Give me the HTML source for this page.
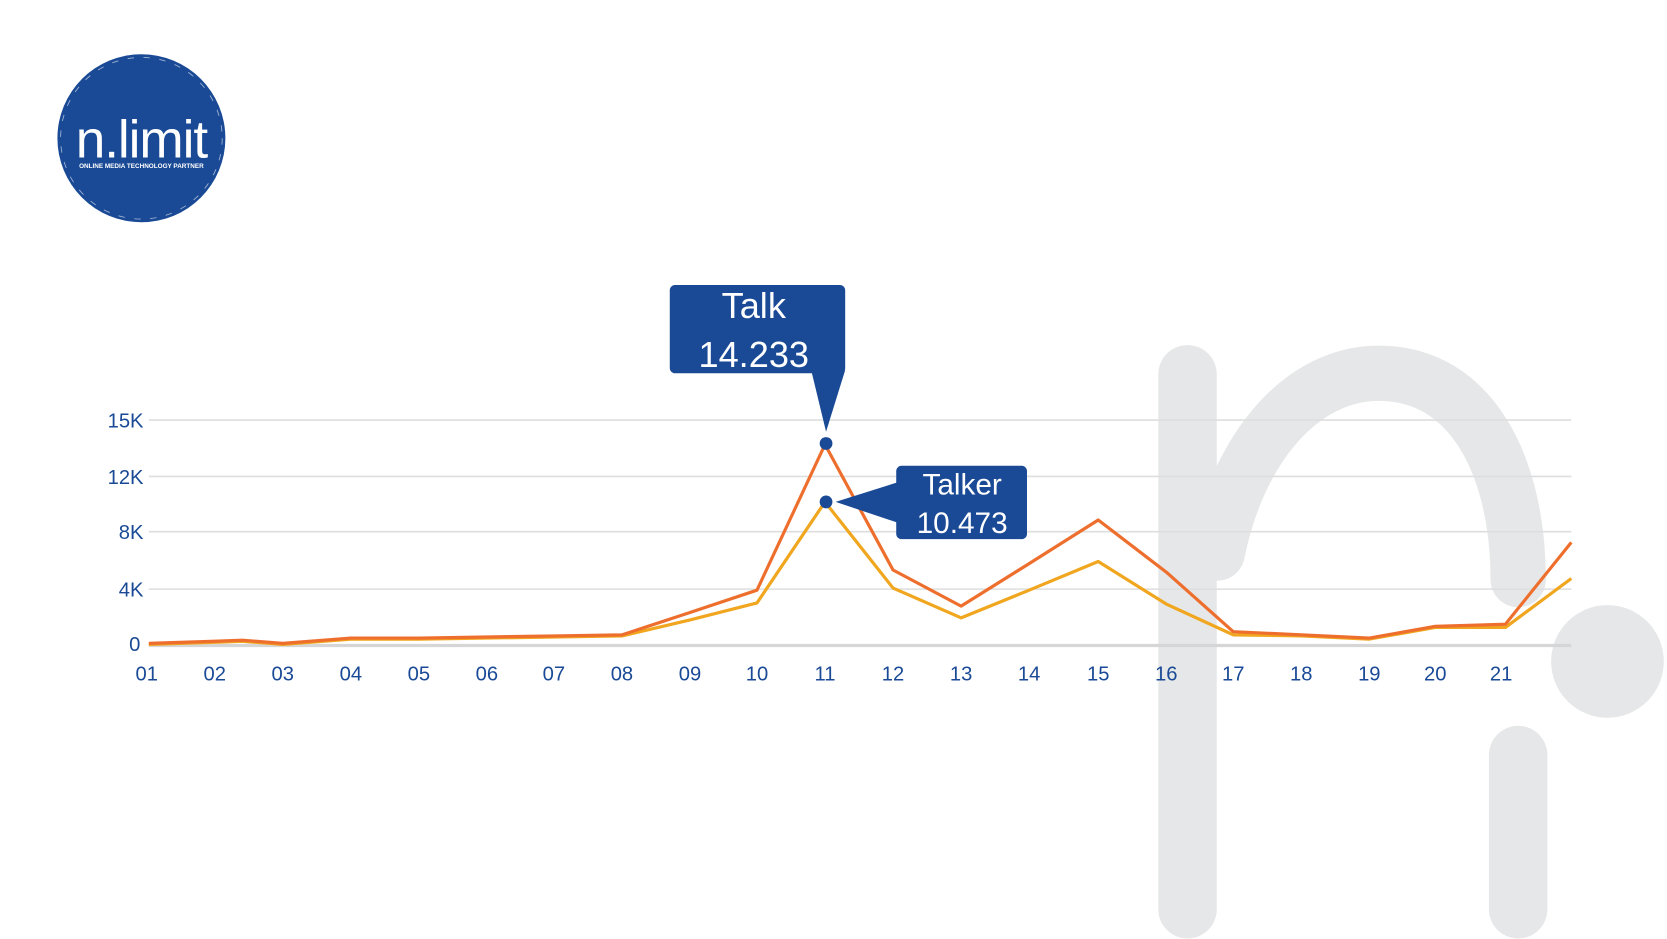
<!DOCTYPE html>
<html><head><meta charset="utf-8"><style>
html,body{margin:0;padding:0;background:#fff;}
svg{display:block;}
text{font-family:"Liberation Sans",sans-serif;}
</style></head><body>
<svg width="1667" height="939" viewBox="0 0 1568 883" preserveAspectRatio="none">
<!-- watermark -->
<g stroke="#e6e7e8" fill="none" stroke-linecap="round" stroke-width="55">
<line x1="1117" y1="352" x2="1117" y2="855"/>
<path d="M1145,520 C1165,420 1225,351 1297,351 C1385,351 1428,440 1428,545" stroke-width="52"/>
<line x1="1428" y1="710" x2="1428" y2="855"/>
</g>
<circle cx="1512" cy="622" r="53" fill="#e6e7e8"/>
<!-- grid -->
<g stroke="#dedede" stroke-width="1.5">
<line x1="140" y1="395" x2="1478" y2="395"/>
<line x1="140" y1="448" x2="1478" y2="448"/>
<line x1="140" y1="500" x2="1478" y2="500"/>
<line x1="140" y1="554" x2="1478" y2="554"/>
</g>
<line x1="140" y1="607" x2="1478" y2="607" stroke="#d6d6d6" stroke-width="3"/>
<g fill="#1a4a96" font-size="19" text-anchor="end">
<text x="135" y="402">15K</text><text x="135" y="455">12K</text><text x="135" y="507">8K</text><text x="135" y="561">4K</text><text x="132" y="612">0</text>
</g>
<g fill="#1a4a96" font-size="19" text-anchor="middle">
<text x="138" y="640">01</text><text x="202" y="640">02</text><text x="266" y="640">03</text><text x="330" y="640">04</text><text x="394" y="640">05</text><text x="458" y="640">06</text><text x="521" y="640">07</text><text x="585" y="640">08</text><text x="649" y="640">09</text><text x="712" y="640">10</text><text x="776" y="640">11</text><text x="840" y="640">12</text><text x="904" y="640">13</text><text x="968" y="640">14</text><text x="1033" y="640">15</text><text x="1097" y="640">16</text><text x="1160" y="640">17</text><text x="1224" y="640">18</text><text x="1288" y="640">19</text><text x="1350" y="640">20</text><text x="1412" y="640">21</text>
</g>
<polyline fill="none" stroke="#f0a61e" stroke-width="3" stroke-linejoin="round" points="140,606 202,604 228,603 266,606 330,601 394,601 458,600 521,599 585,598 649,583 712,567 776,472 840,553 904,581 968,555 1033,528 1097,568 1160,597 1224,598 1288,601 1350,590 1416,590 1478,544"/>
<polyline fill="none" stroke="#ee6f2d" stroke-width="3" stroke-linejoin="round" points="140,605 202,603 228,602 266,605 330,600 394,600 458,599 521,598 585,597 649,576 712,555 776,418 840,536 904,570 968,530 1033,489 1097,538 1160,594 1224,597 1288,600 1350,589 1416,587 1478,510"/>
<!-- callouts -->
<rect x="630" y="268" width="165" height="83" rx="5" fill="#1a4a96"/>
<polygon points="763,348 795,348 777,406" fill="#1a4a96"/>
<text x="709" y="299" font-size="34" fill="#fff" text-anchor="middle">Talk</text>
<text x="709" y="345" font-size="34" fill="#fff" text-anchor="middle">14.233</text>
<rect x="843" y="438" width="123" height="69" rx="5" fill="#1a4a96"/>
<polygon points="846,453 846,492 786,472" fill="#1a4a96"/>
<text x="905" y="465" font-size="28" fill="#fff" text-anchor="middle">Talker</text>
<text x="905" y="501" font-size="28" fill="#fff" text-anchor="middle">10.473</text>
<circle cx="777" cy="417" r="6" fill="#1a4a96"/>
<circle cx="777" cy="472" r="6" fill="#1a4a96"/>
<!-- logo -->
<circle cx="133" cy="130" r="79" fill="#1a4a96"/>
<circle cx="133" cy="130" r="76" fill="none" stroke="#fff" stroke-width="0.8" stroke-dasharray="6 9" opacity="0.6"/>
<text x="133" y="148" font-size="50" fill="#fff" text-anchor="middle" font-family="Liberation Sans" style="letter-spacing:-1px">n.limit</text>
<text x="133" y="158" font-size="6" fill="#fff" text-anchor="middle" font-weight="bold">ONLINE MEDIA TECHNOLOGY PARTNER</text>
</svg>
</body></html>
